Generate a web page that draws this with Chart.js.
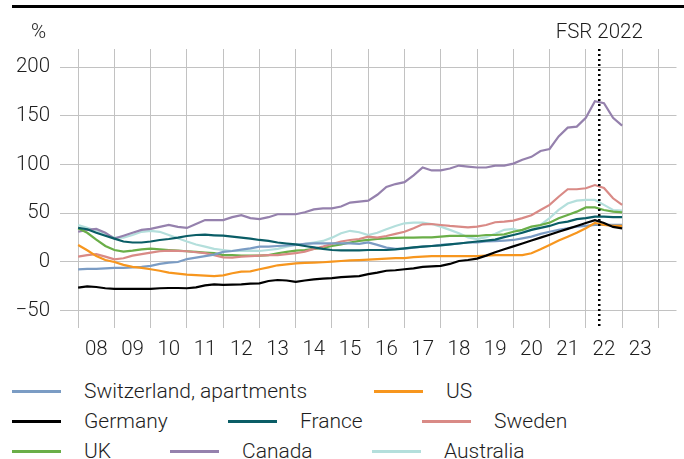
<!DOCTYPE html>
<html>
<head>
<meta charset="utf-8">
<script src="https://cdn.jsdelivr.net/npm/chart.js@4"></script>
<style>
body{margin:0;background:#fff;font-family:Roboto,"Liberation Sans",sans-serif;}
#wrap{position:relative;width:684px;height:459px;overflow:hidden;}
#topline{position:absolute;left:12px;top:5px;width:672px;height:3px;background:#000;}
#box{position:absolute;left:0;top:0;}
.item{position:absolute;height:24px;display:flex;align-items:center;font-size:21px;font-weight:300;color:#1e1e1e;white-space:nowrap;}
.item .sw{display:inline-block;width:49px;height:3px;margin-right:23px;}
</style>
</head>
<body>
<div id="wrap">
<div id="topline"></div>
<div id="box"><canvas id="c" width="684" height="372"></canvas></div>
<div id="legend"></div>
</div>
<script>
// quarterly data, first point = start of 2008
const firstYear = 2008;
const yearLabels = ['08','09','10','11','12','13','14','15','16','17','18','19','20','21','22','23'];
const yTicks = [-50, 0, 50, 100, 150, 200];
const fsrDate = 2022.37;
const fsrLabel = 'FSR 2022';
const unitLabel = '%';

const names = ['Switzerland, apartments','US','Germany','France','Sweden','UK','Canada','Australia'];
const colors = ['#7b9cc4','#f7961e','#000000','#0a5d66','#d98a86','#6aae48','#9581ad','#b4dfdc'];

const switzerland = [-7.5,-7,-7,-6.5,-6,-6,-5.5,-5,-4,-2,-0.7,0,3,4.5,6,7.5,
  10.3,11.3,12.7,14,15.8,15.8,16.4,17,17.5,18.5,19,19,19,19,19,18.5,
  20,17.5,14.7,13.4,13.7,14.7,15.8,16.4,17.5,18,19,20,20,21,21.5,22,
  22.6,24.3,26,28.8,31,33,34.6,36.3,37,38,38,38,38];
const us = [17.5,12,6,2,0,-3,-5,-6,-7.5,-9,-11,-12,-13,-13.5,-14,-14.5,
  -13.7,-11.6,-10,-9.6,-7.5,-5.5,-3.4,-2.4,-1.4,-1,-0.7,-0.3,0.3,1,1.7,2,
  2.5,3,3.5,4,4,5,5.5,6,6,6,6,6,6,6.5,7,7,
  7,7,9,13,17.5,22,26,30,34.6,40,38,37,37];
const germany = [-26.4,-25,-25.7,-27,-27.7,-27.7,-27.7,-27.7,-27.7,-27,-26.7,-26.7,-27,-26,-24,-23,
  -23.6,-23.3,-23,-22.3,-22,-19.5,-18.5,-19,-20.5,-19,-17.8,-17,-16.5,-15.5,-15,-14.5,
  -12.5,-11,-9,-8.5,-7.5,-6.5,-5,-4.5,-4,-2,1,2,3.5,6.5,10,13,
  16,19,22,25,28,31,34,37,40,43,40,36,34.5];
const france = [35,33.6,30,27,24,21,20,20,21,22.6,23.6,25,26.7,27.7,28,27.4,
  27,26,25,24,22.6,21.6,20,19,18,16.4,15,13.4,12.3,12,12,12,
  12.3,12.3,12.3,13,14,15,15.8,16.4,17,18,19,20,21,22,23,25.5,
  27.7,30,33,35,37,40,41.4,44,45,46.6,46.6,46,46];
const sweden = [5.5,7,8,5.5,2.7,3.8,6.5,8,9.6,11,11.6,11.3,11,10,9,7,
  4.8,4.5,5.5,6,6.5,7,7,8,9,10.6,13.4,15.8,18.5,21,22.6,23.6,
  26,25,26.7,28.8,31,34.6,38.7,39,38,37,36.3,35.6,36.3,38,40.8,41.4,
  42.5,45,48,53.4,58.6,67,74.7,74.7,75.7,79,76,65.4,58.6];
const uk = [34.6,30,23,16.4,12.3,10.6,11.6,13,13.7,13,12.3,11.6,11,10.3,9.6,9,
  7,7,6.5,6.5,6.5,7,9,10.3,11.6,12.3,13.4,14.4,16.4,18,20,21.6,
  22.6,23.6,24.3,24.7,25,25,25.3,25.3,26,26.7,26.7,26.7,26.7,27.7,27.7,28.4,
  31,33,36.3,38,40.4,45,48.3,51.7,56,56,53.4,51.7,51];
const canada = [31,33,34,30,24,27,30,33,34,36,38,36,35,39,43,43,
  43,46,48,45,44,46,49,49,49,51,54,55,55,57,61,62,
  63,69,77,80,82,89,97,94,94,96,99,98,97,97,99,99,
  101,105,108,114,116,129,138,139,148,165,163,148,140];
const australia = [38,35,32,28.4,25,25,27.7,31,32,31,27.7,24.3,21,18,15.8,13.4,
  12.3,11.3,11.3,11.6,11.3,12.3,13.4,15.8,17.5,18.5,20,21.6,25,29.5,32,30.5,
  27.7,30,33.6,37,39.7,40.4,40.4,39,36.3,33,29.5,25.3,23.5,25.5,29,33,
  34,31,33,38,45,53.4,60,63,63.7,63.7,58.6,53.4,52.7];

const series = [switzerland, us, germany, france, sweden, uk, canada, australia];
const drawOrder = [3, 2, 0, 1, 4, 5, 6, 7];

// legend rows: [series index, left px of the swatch]
const legendRows = [
  [[0,12],[1,374]],
  [[2,12],[3,228],[4,422]],
  [[5,12],[6,170],[7,372]]
];
const legendTops = [379, 409, 439];

const gridColor = '#c2c2c2';
const textColor = '#1e1e1e';
const tickFont = {family: 'Roboto', size: 20.5, weight: '300'};

const datasets = series.map((vals, k) => ({
  label: names[k],
  data: vals.map((v, i) => ({x: firstYear + i / 4, y: v})),
  borderColor: colors[k],
  borderWidth: 2.2,
  pointRadius: 0,
  tension: 0,
  order: drawOrder[k]
}));

const xTicks = [];
for (let i = 0; i <= yearLabels.length; i++) {
  xTicks.push(firstYear + i);
  if (i < yearLabels.length) xTicks.push(firstYear + i + 0.5);
}

const fsrPlugin = {
  id: 'fsr',
  afterDatasetsDraw(chart) {
    const {ctx, chartArea: a, scales: {x}} = chart;
    const px = x.getPixelForValue(fsrDate);
    ctx.save();
    ctx.strokeStyle = '#000';
    ctx.lineWidth = 2.5;
    ctx.setLineDash([2, 3]);
    ctx.beginPath();
    ctx.moveTo(px, a.top);
    ctx.lineTo(px, a.bottom);
    ctx.stroke();
    ctx.setLineDash([]);
    ctx.fillStyle = textColor;
    ctx.font = '300 20.5px Roboto';
    ctx.textBaseline = 'middle';
    ctx.textAlign = 'center';
    ctx.fillText(fsrLabel, px, 33);
    ctx.textAlign = 'left';
    ctx.fillText(unitLabel, 31, 33);
    ctx.restore();
  }
};

new Chart(document.getElementById('c'), {
  type: 'line',
  data: {datasets},
  options: {
    responsive: false,
    animation: false,
    layout: {padding: {top: 49, right: 7.5, left: 0, bottom: 0}},
    plugins: {legend: {display: false}, tooltip: {enabled: false}},
    scales: {
      x: {
        type: 'linear', min: 2007.5, max: 2024.5,
        afterBuildTicks: s => { s.ticks = xTicks.map(v => ({value: v})); },
        afterFit: s => { s.height = 44; },
        grid: {color: c => Number.isInteger(c.tick.value) ? gridColor : 'rgba(0,0,0,0)', drawTicks: false, lineWidth: 1},
        border: {display: false},
        ticks: {
          autoSkip: false, maxRotation: 0, padding: 10, color: textColor, font: tickFont,
          callback: v => Number.isInteger(v) ? '' : yearLabels[Math.floor(v) - firstYear]
        }
      },
      y: {
        min: -67.8, max: 218.7,
        afterBuildTicks: s => { s.ticks = yTicks.map(v => ({value: v})); },
        afterFit: s => { s.width = 60; },
        grid: {color: gridColor, drawTicks: false, lineWidth: 1},
        border: {display: false},
        ticks: {
          padding: 10, color: textColor, font: tickFont,
          callback: v => v < 0 ? '\u2212' + Math.abs(v) : String(v)
        }
      }
    }
  },
  plugins: [fsrPlugin]
});

// legend
const leg = document.getElementById('legend');
legendRows.forEach((row, r) => {
  row.forEach(([k, left]) => {
    const d = document.createElement('div');
    d.className = 'item';
    d.style.left = left + 'px';
    d.style.top = legendTops[r] + 'px';
    d.innerHTML = '<span class="sw" style="background:' + colors[k] + '"></span>';
    d.appendChild(document.createTextNode(names[k]));
    leg.appendChild(d);
  });
});
</script>
</body>
</html>
